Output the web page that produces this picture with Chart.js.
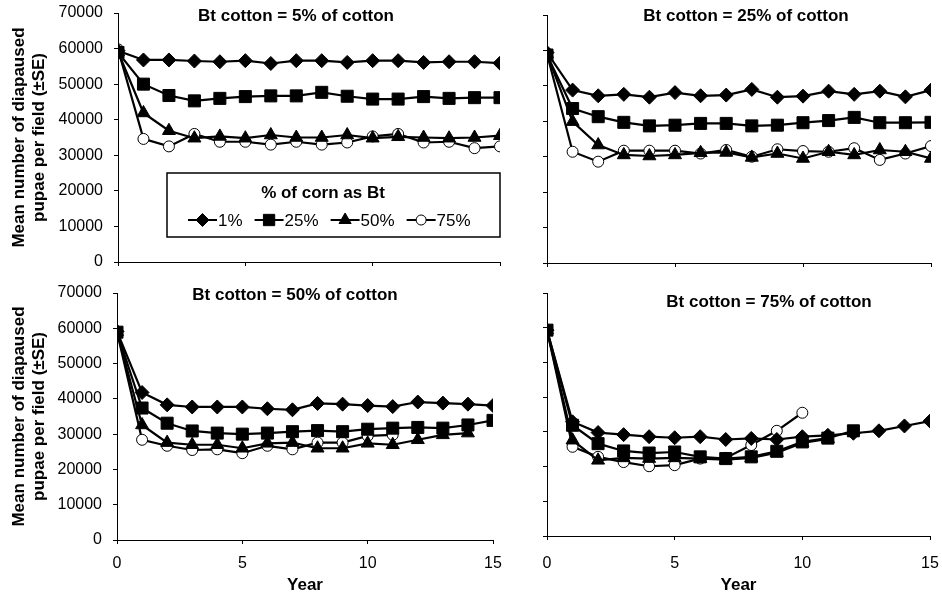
<!DOCTYPE html>
<html>
<head>
<meta charset="utf-8">
<script src="https://cdn.jsdelivr.net/npm/chart.js"></script>
<style>
  body { margin: 0; background: #fff; }
  .panel { position: absolute; }
</style>
</head>
<body>
<div class="panel" style="left:0;top:0"><canvas id="p5" width="510" height="280"></canvas></div>
<div class="panel" style="left:505px;top:0"><canvas id="p25" width="437" height="280"></canvas></div>
<div class="panel" style="left:0;top:280px"><canvas id="p50" width="510" height="319"></canvas></div>
<div class="panel" style="left:505px;top:280px"><canvas id="p75" width="437" height="319"></canvas></div>
<script>
// x values (year) and series names
const years = [0, 1, 2, 3, 4, 5, 6, 7, 8, 9, 10, 11, 12, 13, 14, 15];
const cornLabels = ['1%', '25%', '50%', '75%'];
const yTitle = ['Mean number of diapaused', 'pupae per field (\u00b1SE)'];

// Bt cotton = 5% of cotton
const c5_corn1  = [59400, 56800, 56800, 56500, 56300, 56600, 55800, 56600, 56600, 56100, 56600, 56600, 56100, 56300, 56300, 55900];
const c5_corn25 = [58900, 50000, 46800, 45300, 46000, 46500, 46700, 46700, 47700, 46600, 45800, 45800, 46500, 46000, 46200, 46200];
const c5_corn50 = [59100, 41900, 36900, 34800, 35300, 34800, 35700, 35000, 35000, 35700, 34800, 35200, 35000, 34800, 35000, 35500];
const c5_corn75 = [59800, 34600, 32500, 36000, 33800, 33800, 33000, 33800, 33000, 33600, 35300, 36000, 33600, 33800, 32000, 32500];

// Bt cotton = 25% of cotton
const c25_corn1  = [59400, 48800, 47200, 47600, 46800, 48100, 47200, 47400, 49000, 46800, 47100, 48500, 47600, 48500, 46900, 48800];
const c25_corn25 = [58700, 43600, 41300, 39700, 38700, 38900, 39400, 39400, 38700, 38900, 39600, 40200, 41100, 39600, 39600, 39700];
const c25_corn50 = [59000, 39900, 33300, 30500, 30200, 30500, 31100, 31200, 29800, 30900, 29500, 31400, 30500, 31900, 31400, 29500];
const c25_corn75 = [59000, 31400, 28600, 31700, 31700, 31700, 30900, 31900, 30000, 32100, 31600, 31400, 32400, 29100, 30900, 33000];

// Bt cotton = 50% of cotton
const c50_corn1  = [59100, 41800, 38300, 37700, 37700, 37700, 37200, 36900, 38700, 38500, 38100, 37800, 39100, 38800, 38500, 38100];
const c50_corn25 = [58900, 37400, 33100, 30900, 30300, 30000, 30300, 30700, 31000, 30700, 31400, 31700, 31900, 31700, 32600, 33900];
const c50_corn50 = [59000, 32600, 27600, 27000, 27000, 26000, 27400, 27600, 26000, 26000, 27400, 27000, 28400, 29800, 30300];
const c50_corn75 = [59000, 28400, 26700, 25500, 25700, 24600, 26700, 25700, 27600, 27600, 29500, 29800];

// Bt cotton = 75% of cotton
const c75_corn1  = [59300, 32900, 29800, 29200, 28600, 28300, 28600, 27800, 28100, 27800, 28600, 29000, 29600, 30300, 31700, 33100];
const c75_corn25 = [59300, 31900, 26600, 24500, 23900, 24200, 22800, 22300, 22800, 24400, 27100, 28200, 30300];
const c75_corn50 = [59300, 27600, 21800, 22500, 22300, 22500, 22300, 22000, 22500, 24000, 26800, 28000];
const c75_corn75 = [59300, 25700, 22800, 21300, 20100, 20400, 22300, 22500, 26200, 30300, 35500];

Chart.defaults.font.family = "'Liberation Sans', Arial, sans-serif";
Chart.defaults.color = '#000';

const markers = [
  { pointStyle: 'rectRot', pointRadius: 7, fill: '#000' },
  { pointStyle: 'rect', pointRadius: 8.5, fill: '#000' },
  { pointStyle: 'triangle', pointRadius: 7.5, fill: '#000' },
  { pointStyle: 'circle', pointRadius: 5.5, fill: '#fff' }
];

function toPoints(vals) {
  return vals.map((v, i) => ({ x: years[i], y: v }));
}

// panel heading drawn on the canvas
const headingPlugin = {
  id: 'heading',
  afterDraw(chart, args, opts) {
    if (!opts.text) return;
    const ctx = chart.ctx;
    ctx.save();
    ctx.font = "bold 17px 'Liberation Sans', Arial, sans-serif";
    ctx.fillStyle = '#000';
    ctx.textAlign = 'center';
    ctx.textBaseline = 'middle';
    ctx.fillText(opts.text, opts.x, opts.y);
    ctx.restore();
  }
};

// boxed legend inside the first panel
const boxLegendPlugin = {
  id: 'boxLegend',
  afterDraw(chart, args, opts) {
    if (!opts.show) return;
    const ctx = chart.ctx;
    const b = opts.box;
    ctx.save();
    ctx.fillStyle = '#fff';
    ctx.fillRect(b.x, b.y, b.w, b.h);
    ctx.strokeStyle = '#000';
    ctx.lineWidth = 1.5;
    ctx.strokeRect(b.x, b.y, b.w, b.h);
    ctx.fillStyle = '#000';
    ctx.textAlign = 'center';
    ctx.textBaseline = 'middle';
    ctx.font = "bold 17px 'Liberation Sans', Arial, sans-serif";
    ctx.fillText('% of corn as Bt', opts.titleX, opts.titleY);
    ctx.font = "17px 'Liberation Sans', Arial, sans-serif";
    ctx.textAlign = 'left';
    let x = opts.rowX;
    const y = opts.rowY;
    chart.data.datasets.forEach((ds, i) => {
      ctx.strokeStyle = '#000';
      ctx.lineWidth = 2;
      ctx.beginPath();
      ctx.moveTo(x, y);
      ctx.lineTo(x + 29, y);
      ctx.stroke();
      ctx.fillStyle = markers[i].fill;
      ctx.strokeStyle = '#000';
      ctx.lineWidth = 1;
      Chart.helpers.drawPoint(ctx, { pointStyle: markers[i].pointStyle, radius: markers[i].pointRadius - 0.5, rotation: 0, borderWidth: 1 }, x + 14.5, y);
      ctx.fillStyle = '#000';
      ctx.fillText(cornLabels[i], x + 30, y + 1);
      x += 30 + ctx.measureText(cornLabels[i]).width + 12;
    });
    ctx.restore();
  }
};

function makePanel(id, series, cfg) {
  const datasets = series.map((vals, i) => ({
    label: cornLabels[i],
    data: toPoints(vals),
    borderColor: '#000',
    borderWidth: 2.2,
    pointStyle: markers[i].pointStyle,
    pointRadius: markers[i].pointRadius,
    pointBackgroundColor: markers[i].fill,
    pointBorderColor: '#000',
    pointBorderWidth: 1,
    tension: 0,
    fill: false
  }));

  new Chart(document.getElementById(id), {
    type: 'line',
    data: { datasets },
    plugins: [headingPlugin, boxLegendPlugin],
    options: {
      responsive: false,
      animation: false,
      events: [],
      layout: { padding: { top: cfg.top, right: cfg.right, bottom: 0, left: 0 } },
      scales: {
        x: {
          type: 'linear',
          min: 0,
          max: 15,
          border: { color: '#000', width: 1 },
          grid: { drawOnChartArea: false, color: '#000', tickLength: 4 },
          ticks: { display: cfg.xLabels, stepSize: 5, padding: cfg.xPad || 10, font: { size: 16 } },
          title: {
            display: cfg.xLabels,
            text: 'Year',
            font: { size: 17, weight: 'bold' },
            padding: { top: 0, bottom: 3 }
          },
          afterFit: (s) => {
            s.height = cfg.xHeight;
            // keep end labels from squeezing the plot area
            s.paddingLeft = 0;
            s.paddingRight = 0;
          }
        },
        y: {
          min: 0,
          max: 70000,
          border: { color: '#000', width: 1 },
          grid: { drawOnChartArea: false, color: '#000', tickLength: 4 },
          ticks: {
            display: cfg.yLabels,
            stepSize: 10000,
            padding: 11,
            font: { size: 16 },
            callback: (v) => String(v)
          },
          title: {
            display: cfg.yLabels,
            text: yTitle,
            font: { size: 17, weight: 'bold', lineHeight: 1.2 },
            padding: { top: 9, bottom: 0 }
          },
          afterFit: (s) => {
            s.width = cfg.yWidth;
            s.paddingTop = 0;
            s.paddingBottom = 0;
          }
        }
      },
      plugins: {
        legend: { display: false },
        tooltip: { enabled: false },
        heading: { text: cfg.heading, x: cfg.headX, y: cfg.headY },
        boxLegend: cfg.legend || { show: false }
      }
    }
  });
}

makePanel('p5', [c5_corn1, c5_corn25, c5_corn50, c5_corn75], {
  top: 13, right: 10, xHeight: 18, yWidth: 118, xLabels: false, yLabels: true,
  heading: 'Bt cotton = 5% of cotton', headX: 296, headY: 16,
  legend: { show: true, box: { x: 167, y: 173, w: 333, h: 64 }, titleX: 323, titleY: 193, rowX: 188, rowY: 220 }
});
makePanel('p25', [c25_corn1, c25_corn25, c25_corn50, c25_corn75], {
  top: 15, right: 11, xHeight: 17, yWidth: 42, xLabels: false, yLabels: false,
  heading: 'Bt cotton = 25% of cotton', headX: 241, headY: 16
});
makePanel('p50', [c50_corn1, c50_corn25, c50_corn50, c50_corn75], {
  top: 13, right: 17, xHeight: 59, yWidth: 117, xLabels: true, yLabels: true, xPad: 10,
  heading: 'Bt cotton = 50% of cotton', headX: 295, headY: 15
});
makePanel('p75', [c75_corn1, c75_corn25, c75_corn50, c75_corn75], {
  top: 13, right: 12, xHeight: 63, yWidth: 42, xLabels: true, yLabels: false, xPad: 14,
  heading: 'Bt cotton = 75% of cotton', headX: 264, headY: 22
});
</script>
</body>
</html>
